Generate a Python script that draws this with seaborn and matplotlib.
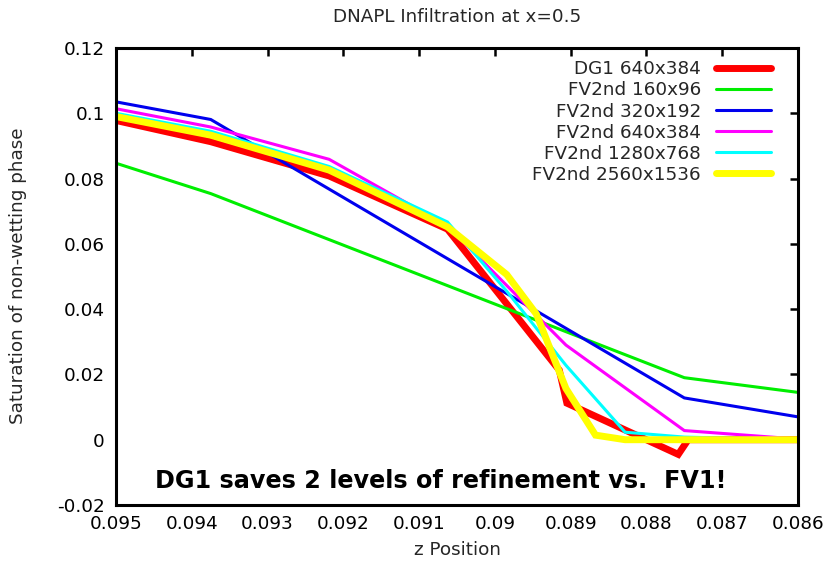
import matplotlib
matplotlib.use("Agg")
import matplotlib.pyplot as plt
from matplotlib.ticker import FuncFormatter
import seaborn as sns
import pandas as pd

# Saturation profiles along z (column x = 0.5)
z_dg1_640 = [0.095, 0.09375, 0.0921875, 0.090625, 0.08915, 0.08905, 0.08758, 0.08745, 0.086]
s_dg1_640 = [0.0978, 0.0913, 0.0808, 0.0645, 0.0213, 0.0112, -0.0045, 0.0, 0.0]

z_fv_160 = [0.095, 0.09375, 0.0875, 0.086]
s_fv_160 = [0.0847, 0.0754, 0.0190, 0.0145]

z_fv_320 = [0.095, 0.09375, 0.0875, 0.086]
s_fv_320 = [0.1035, 0.0981, 0.0128, 0.0070]

z_fv_640 = [0.095, 0.09375, 0.0921875, 0.090625, 0.0890625, 0.0875, 0.086]
s_fv_640 = [0.1014, 0.0958, 0.0859, 0.0655, 0.0290, 0.0028, 0.0002]

z_fv_1280 = [0.095, 0.09375, 0.0921875, 0.090625, 0.0898438, 0.0890625, 0.0882813, 0.0875, 0.086]
s_fv_1280 = [0.1000, 0.0945, 0.0837, 0.0667, 0.0455, 0.0228, 0.0023, 0.0008, 0.0]

z_fv_2560 = [0.095, 0.09375, 0.0921875, 0.090625, 0.0898438, 0.0894531, 0.0890625, 0.0886719, 0.0882813, 0.086]
s_fv_2560 = [0.0990, 0.0933, 0.0826, 0.0652, 0.0506, 0.0385, 0.0157, 0.0014, 0.0, 0.0]

labels = ["DG1 640x384", "FV2nd 160x96", "FV2nd 320x192",
          "FV2nd 640x384", "FV2nd 1280x768", "FV2nd 2560x1536"]
colors = ["#ff0000", "#00ee00", "#0000ee", "#ff00ff", "#00ffff", "#ffff00"]
widths = [5.0, 2.2, 2.2, 2.2, 2.2, 5.0]

x_ticks = [0.095, 0.094, 0.093, 0.092, 0.091, 0.09, 0.089, 0.088, 0.087, 0.086]
y_ticks = [-0.02, 0.0, 0.02, 0.04, 0.06, 0.08, 0.1, 0.12]

series = [(z_dg1_640, s_dg1_640), (z_fv_160, s_fv_160), (z_fv_320, s_fv_320),
          (z_fv_640, s_fv_640), (z_fv_1280, s_fv_1280), (z_fv_2560, s_fv_2560)]

sns.set_theme(style="white")
plt.rcParams["font.family"] = ["DejaVu Sans"]
plt.rcParams["axes.unicode_minus"] = False

fig = plt.figure(figsize=(8.31, 5.65), dpi=100)
ax = fig.add_axes([116 / 831, 1 - 505 / 565, (798 - 116) / 831, (505 - 48) / 565])

for (z, s), lab, col, lw in zip(series, labels, colors, widths):
    df = pd.DataFrame({"z": z, "s": s})
    sns.lineplot(data=df, x="z", y="s", sort=False, estimator=None,
                 color=col, lw=lw, label=lab, ax=ax, solid_joinstyle="miter")

ax.set_xlim(0.095, 0.086)
ax.set_ylim(-0.02, 0.12)
ax.set_xticks(x_ticks)
ax.set_yticks(y_ticks)
fmt = FuncFormatter(lambda v, p: "%g" % round(v, 6))
ax.xaxis.set_major_formatter(fmt)
ax.yaxis.set_major_formatter(fmt)
ax.set_xlabel("")
ax.set_ylabel("")

for sp in ax.spines.values():
    sp.set_visible(True)
    sp.set_color("black")
    sp.set_linewidth(2.2)

ax.tick_params(axis="both", which="major", direction="in", length=6, width=1.8,
               top=True, right=True, labelsize=13.2, colors="black")
ax.tick_params(axis="x", pad=7)
ax.tick_params(axis="y", pad=8)

leg = ax.legend(loc="upper right", frameon=False, markerfirst=False,
                fontsize=13.2, handlelength=3.0, handletextpad=0.8,
                labelspacing=0.17, borderaxespad=0.0,
                bbox_to_anchor=(778 / 831, 1 - 53 / 565),
                bbox_transform=fig.transFigure)
for t in leg.get_texts():
    t.set_ha("right")
leg._legend_box.align = "right"

fig.text(457 / 831, 1 - 17 / 565, "DNAPL Infiltration at x=0.5",
         ha="center", va="center", fontsize=13.2)
fig.text(457 / 831, 1 - 550 / 565, "z Position",
         ha="center", va="center", fontsize=13.2)
fig.text(18 / 831, 1 - 276 / 565, "Saturation of non-wetting phase",
         ha="center", va="center", rotation=90, fontsize=13.2)

ax.text(441 / 831, 1 - 481 / 565, "DG1 saves 2 levels of refinement vs.  FV1!",
        transform=fig.transFigure, ha="center", va="center",
        fontsize=17.2, fontweight="bold", color="black")

fig.savefig("out.png", dpi=100)
